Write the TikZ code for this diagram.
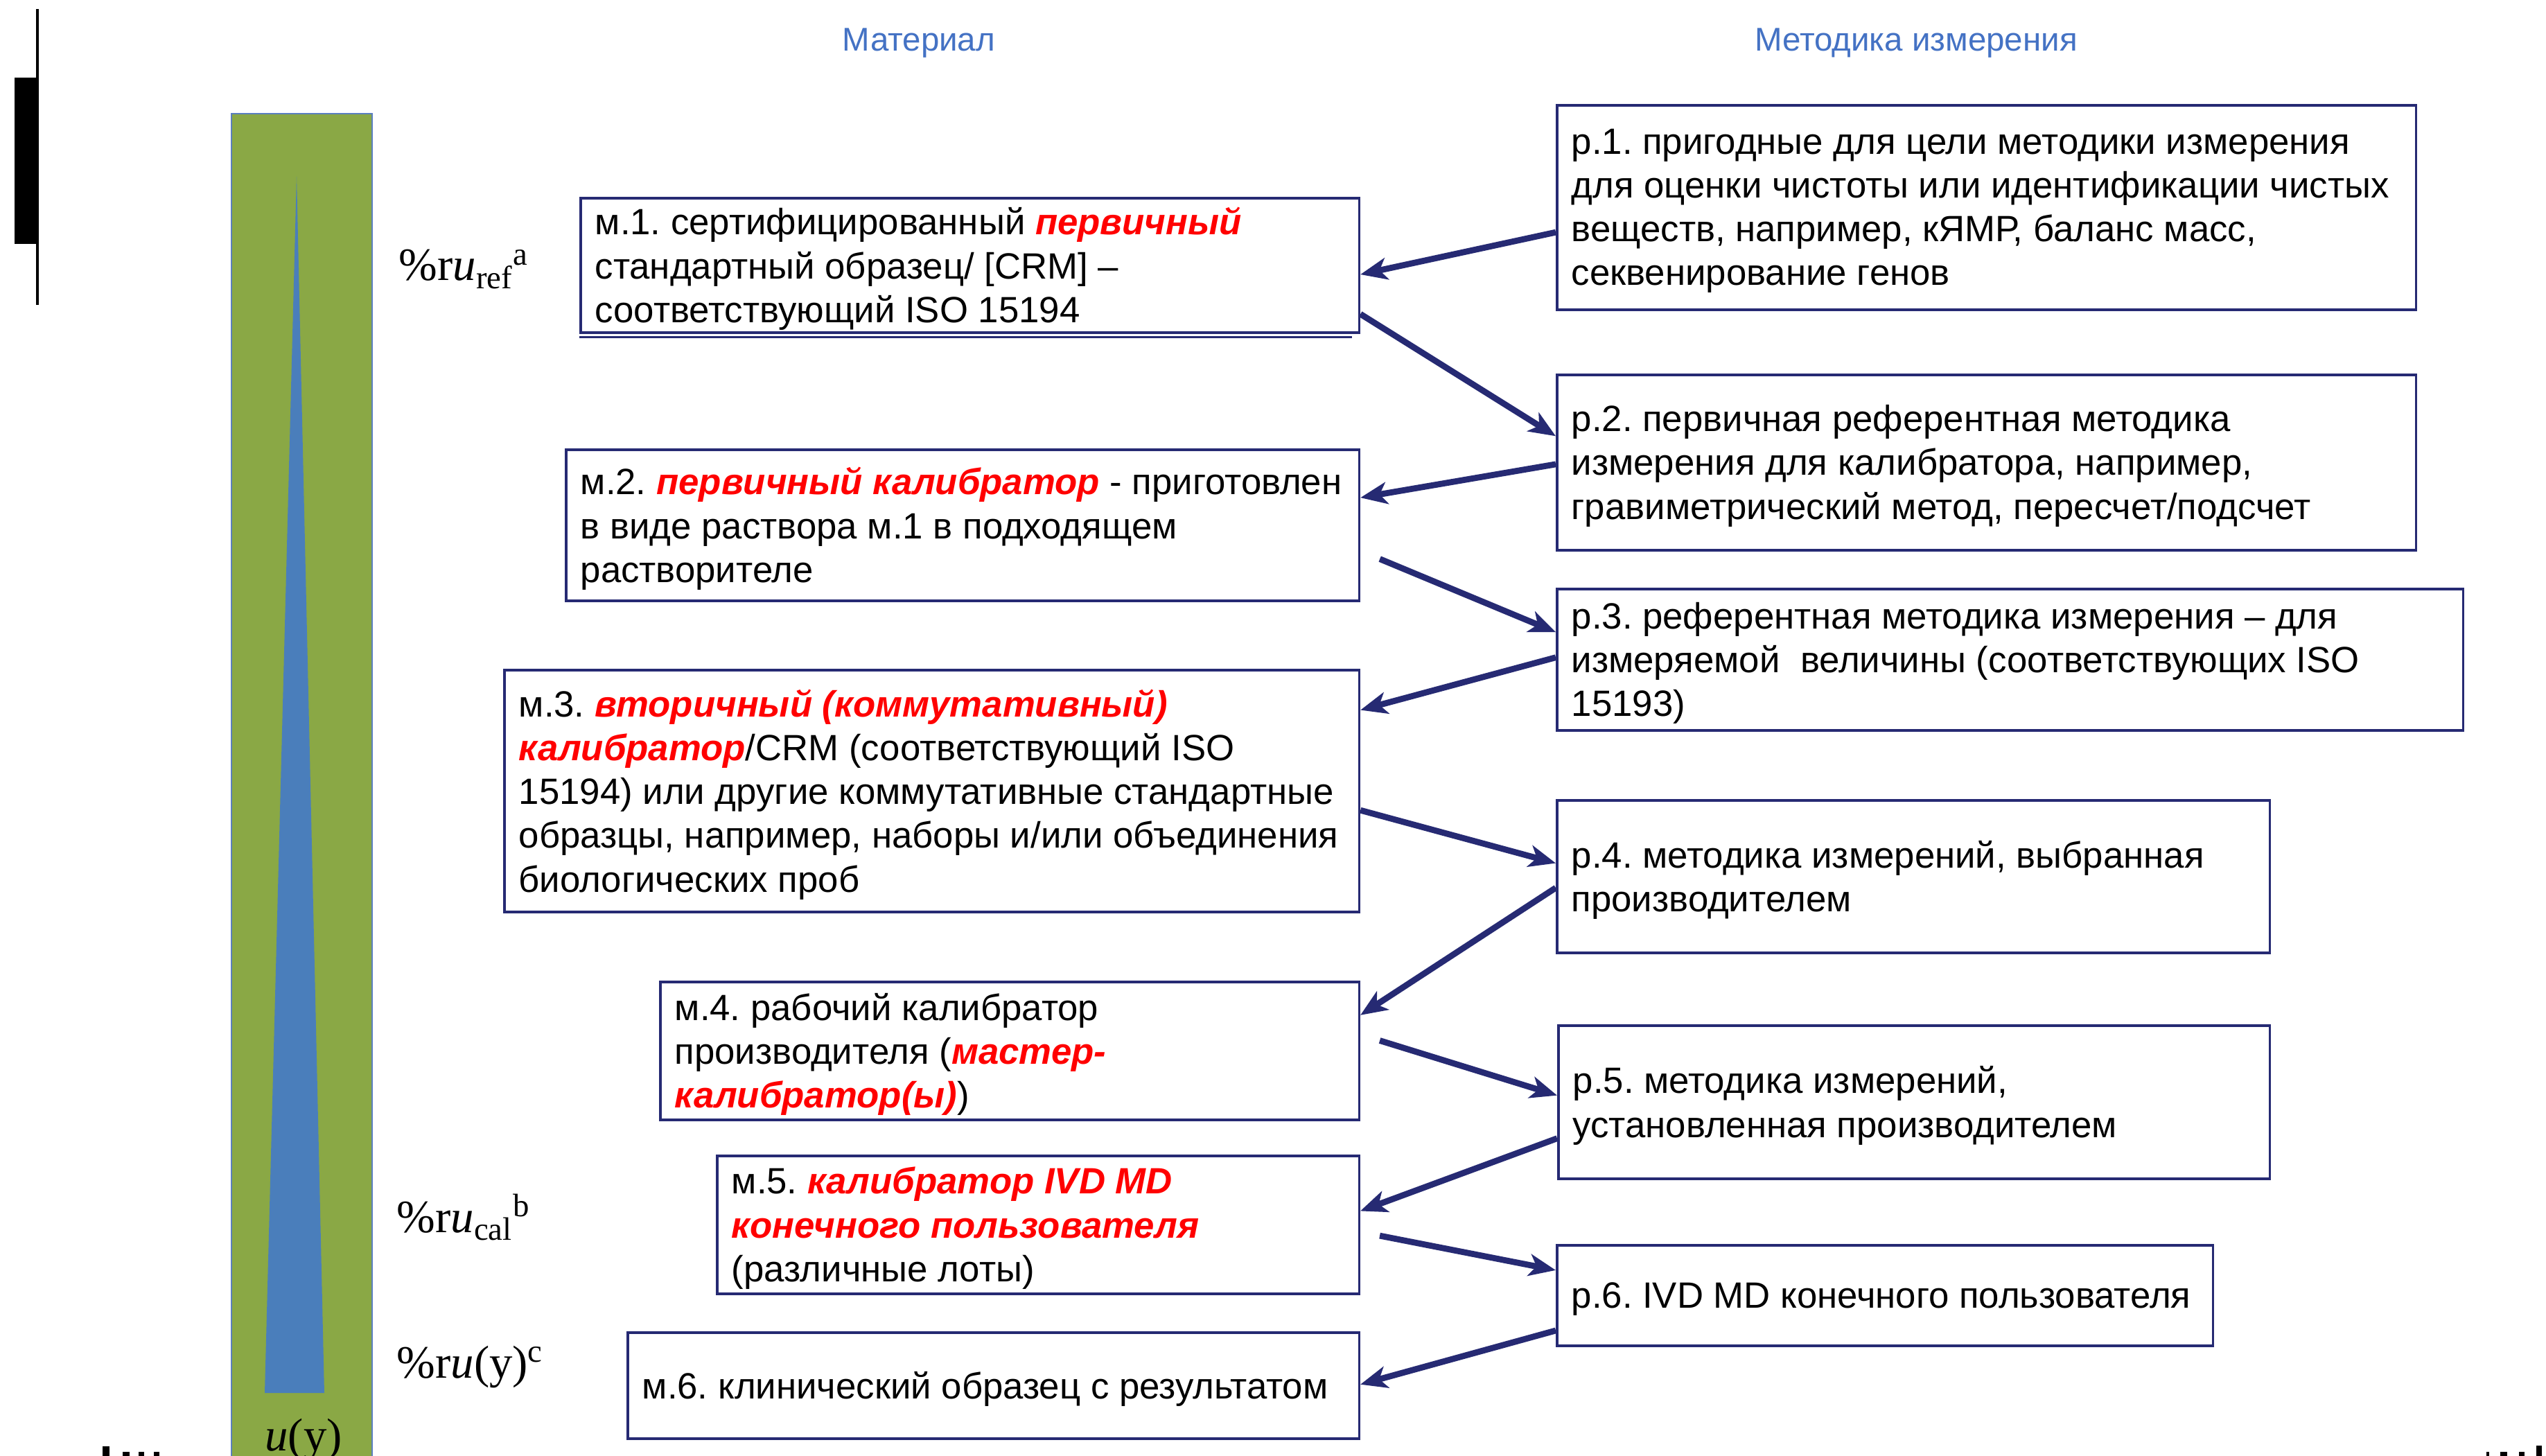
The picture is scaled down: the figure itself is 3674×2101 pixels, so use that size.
\documentclass[tikz,border=0pt]{standalone}
\usepackage[no-math]{fontspec}
\setmainfont{Liberation Sans}
\newfontfamily\lserif{Liberation Serif}
\usetikzlibrary{arrows.meta,calc}
\definecolor{navy}{RGB}{38,42,115}
\definecolor{hdrblue}{RGB}{68,114,196}
\definecolor{bargreen}{RGB}{138,168,69}
\definecolor{barblue}{RGB}{74,126,187}
\definecolor{barline}{RGB}{91,127,191}
\newcommand\hl[1]{{\color{red}\bfseries\itshape #1}}
\frenchspacing
\tikzset{
  box/.style={draw=navy, line width=1pt, rectangle, inner sep=0pt, anchor=north west},
  txt/.style={anchor=west, align=left, inner sep=0pt, font=\fontsize{15}{18}\selectfont},
  conn/.style={draw=navy, line width=2.5pt, -{Stealth[length=11pt,width=9pt,inset=3pt]}},
  hdr/.style={text=hdrblue, inner sep=0pt, font=\fontsize{13.5}{16}\selectfont},
  lbl/.style={anchor=base west, inner sep=0pt, font=\lserif\fontsize{19}{22}\selectfont},
}
\begin{document}
\begin{tikzpicture}[x=0.01cm,y=-0.01cm]
\useasboundingbox (0,0) rectangle (3674,2101);
\fill[white] (0,0) rectangle (3674,2101);

% edge marks
\fill[black] (52,13) rectangle (56,440);
\fill[black] (21,112) rectangle (54,352);
\fill[black] (148,2087) rectangle (158,2101);
\fill[black] (177,2095) rectangle (187,2101);
\fill[black] (200,2095) rectangle (208,2101);
\fill[black] (222,2095) rectangle (230,2101);
\fill[black] (3588,2095) rectangle (3592,2101);
\fill[black] (3608,2095) rectangle (3618,2101);
\fill[black] (3635,2095) rectangle (3643,2101);
\fill[black] (3660,2086) rectangle (3668,2101);

% uncertainty bar
\fill[bargreen] (334,164) rectangle (537,2120);
\draw[barline, line width=0.7pt] (334,2120) -- (334,164) -- (537,164) -- (537,2120);
\fill[barblue] (428,255) -- (468,2010) -- (382,2010) -- cycle;
\node[anchor=base, inner sep=0pt, font=\lserif\fontsize{19}{22}\selectfont] (uy) at (438,2093) {\textit{u}(y)};

% labels
\node[lbl] (lref) at (575,405) {\%r\textit{u}\textsubscript{ref}\textsuperscript{a}};
\node[lbl] (lcal) at (572,1778) {\%r\textit{u}\textsubscript{cal}\textsuperscript{b}};
\node[lbl] (ly) at (572,1988) {\%r\textit{u}(y)\textsuperscript{c}};

% headers
\node[hdr] (h1) at (1326,62) {Материал};
\node[hdr] (h2) at (2765,62) {Методика измерения};

% material boxes
\node[box, minimum width=11.23cm, minimum height=1.94cm] (m1) at (836,284) {};
\draw[navy, line width=1pt] ($(m1.south west)+(0,5)$) -- ($(m1.south east)+(-12,5)$);
\node[box, minimum width=11.44cm, minimum height=2.18cm] (m2) at (815,647) {};
\node[box, minimum width=12.33cm, minimum height=3.49cm] (m3) at (726,965) {};
\node[box, minimum width=10.08cm, minimum height=1.99cm] (m4) at (951,1415) {};
\node[box, minimum width=9.26cm, minimum height=1.99cm] (m5) at (1033,1666) {};
\node[box, minimum width=10.55cm, minimum height=1.53cm] (m6) at (904,1921) {};

\node[txt] (m1t) at ($(m1.west)+(22,5)$) {м.1. сертифицированный \hl{первичный}\\стандартный образец/ [CRM] –\\соответствующий ISO 15194};
\node[txt] (m2t) at ($(m2.west)+(22,5)$) {м.2. \hl{первичный калибратор} - приготовлен\\в виде раствора м.1 в подходящем\\растворителе};
\node[txt] (m3t) at ($(m3.west)+(22,5)$) {м.3. \hl{вторичный (коммутативный)}\\\hl{калибратор}/CRM (соответствующий ISO\\15194) или другие коммутативные стандартные\\образцы, например, наборы и/или объединения\\биологических проб};
\node[txt] (m4t) at ($(m4.west)+(22,5)$) {м.4. рабочий калибратор\\производителя (\hl{мастер-}\\\hl{калибратор(ы)})};
\node[txt] (m5t) at ($(m5.west)+(22,5)$) {м.5. \hl{калибратор IVD MD}\\\hl{конечного пользователя}\\(различные лоты)};
\node[txt] (m6t) at ($(m6.west)+(22,5)$) {м.6. клинический образец с результатом};

% procedure boxes
\node[box, minimum width=12.39cm, minimum height=2.95cm] (p1) at (2245,150) {};
\node[box, minimum width=12.39cm, minimum height=2.53cm] (p2) at (2245,539) {};
\node[box, minimum width=13.07cm, minimum height=2.04cm] (p3) at (2245,848) {};
\node[box, minimum width=10.28cm, minimum height=2.20cm] (p4) at (2245,1153) {};
\node[box, minimum width=10.26cm, minimum height=2.21cm] (p5) at (2247,1478) {};
\node[box, minimum width=9.46cm, minimum height=1.45cm] (p6) at (2245,1795) {};

\node[txt] (p1t) at ($(p1.west)+(22,5)$) {р.1. пригодные для цели методики измерения\\для оценки чистоты или идентификации чистых\\веществ, например, кЯМР, баланс масс,\\секвенирование генов};
\node[txt] (p2t) at ($(p2.west)+(22,5)$) {р.2. первичная референтная методика\\измерения для калибратора, например,\\гравиметрический метод, пересчет/подсчет};
\node[txt] (p3t) at ($(p3.west)+(22,5)$) {р.3. референтная методика измерения – для\\измеряемой\ \ величины (соответствующих ISO\\15193)};
\node[txt] (p4t) at ($(p4.west)+(22,5)$) {р.4. методика измерений, выбранная\\производителем};
\node[txt] (p5t) at ($(p5.west)+(22,5)$) {р.5. методика измерений,\\установленная производителем};
\node[txt] (p6t) at ($(p6.west)+(22,5)$) {р.6. IVD MD конечного пользователя};

% connectors
\draw[conn] ($(p1.north west)!0.62!(p1.south west)$) -- ($(m1.north east)!0.567!(m1.south east)$);
\draw[conn] ($(m1.north east)!0.856!(m1.south east)$) -- ($(p2.north west)!0.352!(p2.south west)$);
\draw[conn] ($(p2.north west)!0.51!(p2.south west)$) -- ($(m2.north east)!0.321!(m2.south east)$);
\draw[conn] ($(m2.north east)!0.72!(m2.south east)+(28,0)$) -- ($(p3.north west)!0.309!(p3.south west)$);
\draw[conn] ($(p3.north west)!0.485!(p3.south west)$) -- ($(m3.north east)!0.169!(m3.south east)$);
\draw[conn] ($(m3.north east)!0.579!(m3.south east)$) -- ($(p4.north west)!0.414!(p4.south west)$);
\draw[conn] ($(p4.north west)!0.573!(p4.south west)$) -- ($(m4.north east)!0.246!(m4.south east)$);
\draw[conn] ($(m4.north east)!0.427!(m4.south east)+(28,0)$) -- ($(p5.north west)!0.457!(p5.south west)$);
\draw[conn] ($(p5.north west)!0.733!(p5.south west)$) -- ($(m5.north east)!0.402!(m5.south east)$);
\draw[conn] ($(m5.north east)!0.578!(m5.south east)+(28,0)$) -- ($(p6.north west)!0.255!(p6.south west)$);
\draw[conn] ($(p6.north west)!0.841!(p6.south west)$) -- ($(m6.north east)!0.49!(m6.south east)$);
\end{tikzpicture}
\end{document}
